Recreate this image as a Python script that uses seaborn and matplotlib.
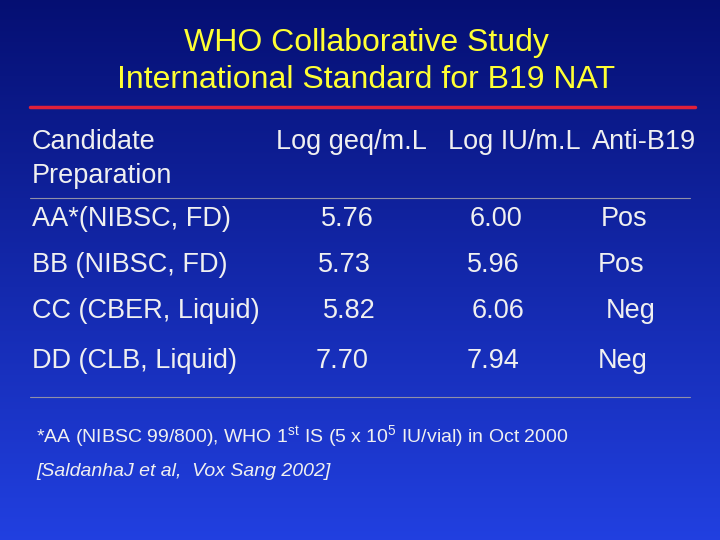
import numpy as np
import matplotlib
matplotlib.use("Agg")
import matplotlib.pyplot as plt
import seaborn as sns

sns.set_theme(style="white")
plt.rcParams['font.family'] = ['Liberation Sans', 'DejaVu Sans']
plt.rcParams['mathtext.fontset'] = 'custom'
plt.rcParams['mathtext.rm'] = 'Liberation Sans'

title_lines = ["WHO Collaborative Study", "International Standard for B19 NAT"]
headers = ["Log geq/m.L", "Log IU/m.L", "Anti-B19"]
preparations = ["AA*(NIBSC, FD)", "BB (NIBSC, FD)", "CC (CBER, Liquid)", "DD (CLB, Liquid)"]
log_geq = ["5.76", "5.73", "5.82", "7.70"]
log_iu = ["6.00", "5.96", "6.06", "7.94"]
anti_b19 = ["Pos", "Pos", "Neg", "Neg"]

W, H = 720, 540
fig = plt.figure(figsize=(7.2, 5.4), dpi=100)
ax = fig.add_axes([0, 0, 1, 1])
grad = np.linspace(0, 1, 256).reshape(-1, 1)
top = np.array([0.02, 0.06, 0.45]); bot = np.array([0.13, 0.25, 0.88])
img = top + (bot - top) * grad[..., None]
img = img * np.ones((1, 2, 1))
ax.imshow(img, extent=[0, W, H, 0], aspect='auto')
ax.set_xlim(0, W); ax.set_ylim(H, 0); ax.axis('off')

wc = '#f0f0f0'
fs = 19.5
ax.text(366, 43, title_lines[0], color='#ffff33', fontsize=23, ha='center', va='center')
ax.text(366, 80, title_lines[1], color='#ffff33', fontsize=23, ha='center', va='center')
ax.plot([30, 695], [107, 107], color='#e0203a', lw=2.5)

ax.text(32, 142, "Candidate", color=wc, fontsize=fs, va='center')
ax.text(32, 176, "Preparation", color=wc, fontsize=fs, va='center')
for x, h in zip([276, 448, 592], headers):
    ax.text(x, 142, h, color=wc, fontsize=fs, va='center')
ax.plot([30, 690], [198, 198], color='#9090a8', lw=0.8)

ys = [219, 265, 311, 361]
offs = [3, 0, 5, 0]
for i, y in enumerate(ys):
    ax.text(32, y, preparations[i], color=wc, fontsize=fs, va='center')
    ax.text(318 + offs[i] - (2 if i == 3 else 0), y, log_geq[i], color=wc, fontsize=fs, va='center')
    ax.text(467 + offs[i], y, log_iu[i], color=wc, fontsize=fs, va='center')
    ax.text(598 + offs[i] + (3 if i == 2 else 0), y, anti_b19[i], color=wc, fontsize=fs, va='center')
ax.plot([30, 690], [397, 397], color='#9090a8', lw=0.8)

ax.text(36, 437, r"*AA (NIBSC 99/800), WHO 1$^{\rm st}$ IS (5 x 10$^{5}$ IU/vial) in Oct 2000",
        color=wc, fontsize=14, va='center')
ax.text(36, 471, "[SaldanhaJ et al,  Vox Sang 2002]", color=wc, fontsize=14,
        va='center', style='italic')

fig.savefig("out.png", dpi=100)
